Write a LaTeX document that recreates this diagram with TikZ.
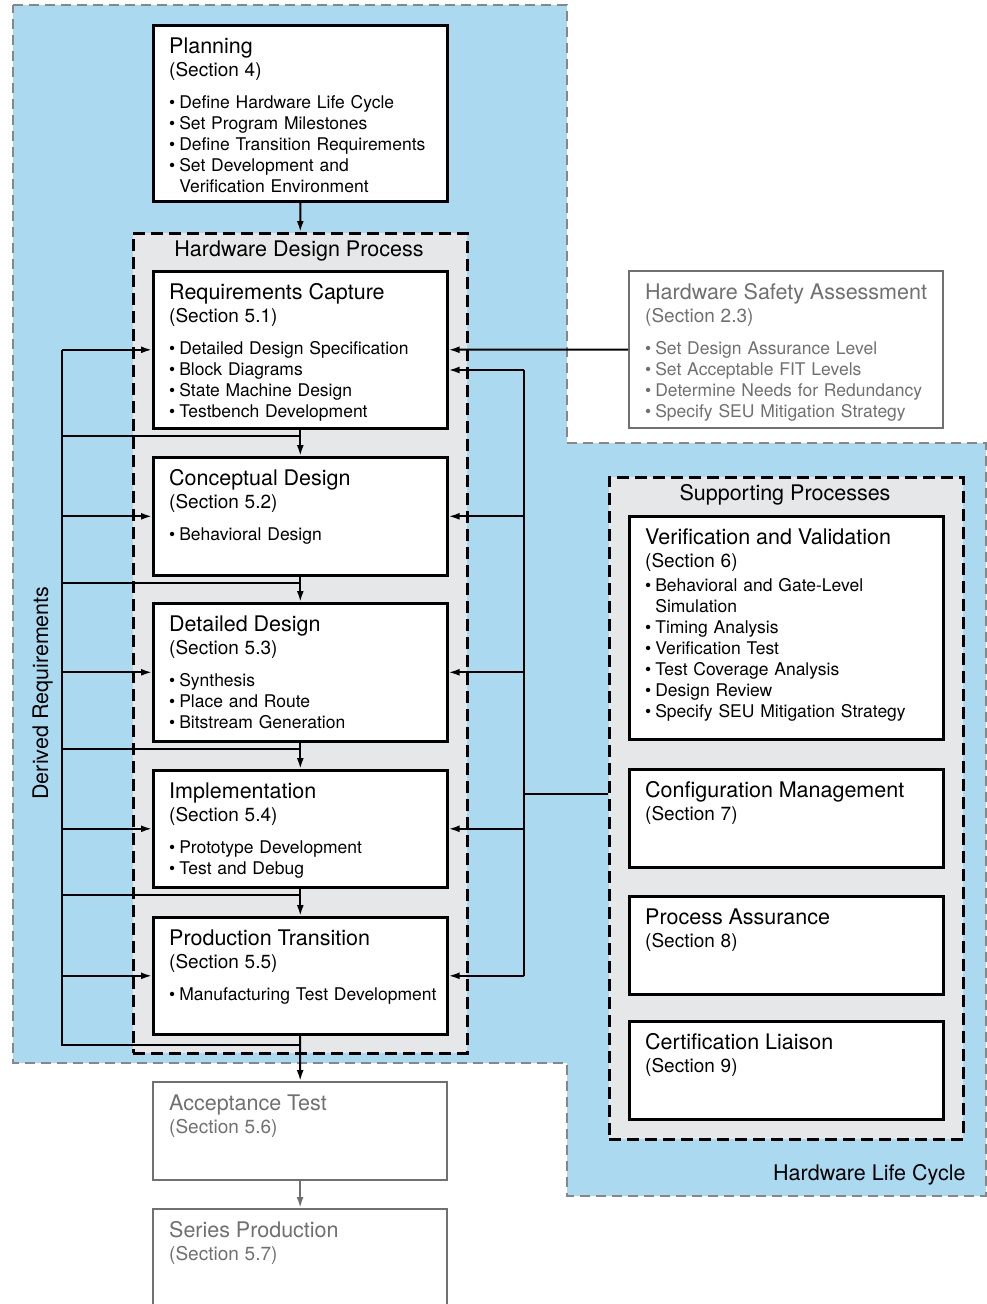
\documentclass[tikz,border=0pt]{standalone}
\usepackage{fontspec}
\setmainfont{TeX Gyre Heros}
\usetikzlibrary{arrows.meta, calc, positioning}

\definecolor{lifeblue}{RGB}{171,218,240}
\definecolor{procgray}{RGB}{230,231,232}
\definecolor{bordergray}{RGB}{135,135,135}
\definecolor{fadegray}{RGB}{112,112,114}

\newcommand{\boxtitle}[1]{{\fontsize{21.5}{24}\selectfont\rule{0pt}{18pt}#1\par}}
\newcommand{\boxsec}[1]{{\fontsize{19}{23.5}\selectfont #1\par}}
\newcommand{\boxitems}[2][10.5pt]{{\fontsize{17.5}{21}\selectfont\vspace{#1}#2\par}}
\newcommand{\bitem}{\textbullet\hspace{4pt}}
\newcommand{\bcont}{\phantom{\textbullet}\hspace{4pt}}

\begin{document}
\begin{tikzpicture}[x=1pt, y=-1pt,
	stage/.style={draw, line width=2.6pt, fill=white, anchor=north west, minimum width=294pt, inner sep=0pt},
	fadestage/.style={stage, draw=fadegray, line width=2.2pt},
	txt/.style={anchor=north west, inner sep=0pt, text width=300pt, align=left, font=\fontsize{17.5}{21}\selectfont},
	fadetxt/.style={txt, text=fadegray},
	group/.style={draw, dash pattern=on 12pt off 6pt, line width=2.5pt, fill=procgray, anchor=north west, inner sep=0pt},
	heading/.style={anchor=base, font=\fontsize{21.5}{24}\selectfont},
	flow/.style={-{Latex[length=11pt,width=7pt]}, line width=2pt},
	link/.style={line width=1.8pt}]

	\useasboundingbox (0,0) rectangle (987,1304);

	% hardware life cycle area
	\path[fill=lifeblue, draw=bordergray, line width=2.2pt, dash pattern=on 10pt off 6pt]
		(13,5) -- (567,5) -- (567,443) -- (986,443) -- (986,1196) -- (567,1196) -- (567,1063) -- (13,1063) -- cycle;
	\node[heading, anchor=base east] (hlc) at (969,1180) {Hardware Life Cycle};
	\node[heading, rotate=90] (derived) at (48,693) {Derived Requirements};

	% groups
	\node[group, minimum width=334pt, minimum height=820pt] (hdp) at (132,232) {};
	\node[heading] (hdp-title) at (299,256.5) {Hardware Design Process};
	\node[group, minimum width=354pt, minimum height=662pt] (supp) at (608,476) {};
	\node[heading] (supp-title) at (785,500.5) {Supporting Processes};

	% boxes
	\node[stage, minimum height=176pt] (plan) at (152,24) {};
	\node[stage, minimum height=157pt] (rc) at (152,270) {};
	\node[stage, minimum height=118pt] (cd) at (152,456) {};
	\node[stage, minimum height=138pt] (dd) at (152,602) {};
	\node[stage, minimum height=117pt] (impl) at (152,769) {};
	\node[stage, minimum height=117pt] (pt) at (152,916) {};
	\node[fadestage, minimum height=98pt] (acc) at (152,1081) {};
	\node[fadestage, minimum height=120pt] (ser) at (152,1208) {};
	\node[fadestage, minimum width=314pt, minimum height=157pt] (hsa) at (628,270) {};
	\node[stage, minimum width=314pt, minimum height=223pt] (vv) at (628,515) {};
	\node[stage, minimum width=314pt, minimum height=98pt] (cm) at (628,768) {};
	\node[stage, minimum width=314pt, minimum height=98pt] (pa) at (628,895) {};
	\node[stage, minimum width=314pt, minimum height=98pt] (cl) at (628,1020) {};

	% box texts
	\node[txt] (plan-txt) at ([shift={(17,11)}]plan.north west) {\boxtitle{Planning}\boxsec{(Section 4)}%
		\boxitems{\bitem Define Hardware Life Cycle\\ \bitem Set Program Milestones\\ \bitem Define Transition Requirements\\ \bitem Set Development and\\ \bcont Verification Environment}};
	\node[txt] (rc-txt) at ([shift={(17,11)}]rc.north west) {\boxtitle{Requirements Capture}\boxsec{(Section 5.1)}%
		\boxitems{\bitem Detailed Design Specification\\ \bitem Block Diagrams\\ \bitem State Machine Design\\ \bitem Testbench Development}};
	\node[txt] (cd-txt) at ([shift={(17,11)}]cd.north west) {\boxtitle{Conceptual Design}\boxsec{(Section 5.2)}%
		\boxitems{\bitem Behavioral Design}};
	\node[txt] (dd-txt) at ([shift={(17,11)}]dd.north west) {\boxtitle{Detailed Design}\boxsec{(Section 5.3)}%
		\boxitems{\bitem Synthesis\\ \bitem Place and Route\\ \bitem Bitstream Generation}};
	\node[txt] (impl-txt) at ([shift={(17,11)}]impl.north west) {\boxtitle{Implementation}\boxsec{(Section 5.4)}%
		\boxitems{\bitem Prototype Development\\ \bitem Test and Debug}};
	\node[txt] (pt-txt) at ([shift={(17,11)}]pt.north west) {\boxtitle{Production Transition}\boxsec{(Section 5.5)}%
		\boxitems{\bitem Manufacturing Test Development}};
	\node[fadetxt] (acc-txt) at ([shift={(17,11)}]acc.north west) {\boxtitle{Acceptance Test}\boxsec{(Section 5.6)}};
	\node[fadetxt] (ser-txt) at ([shift={(17,11)}]ser.north west) {\boxtitle{Series Production}\boxsec{(Section 5.7)}};
	\node[fadetxt] (hsa-txt) at ([shift={(17,11)}]hsa.north west) {\boxtitle{Hardware Safety Assessment}\boxsec{(Section 2.3)}%
		\boxitems{\bitem Set Design Assurance Level\\ \bitem Set Acceptable FIT Levels\\ \bitem Determine Needs for Redundancy\\ \bitem Specify SEU Mitigation Strategy}};
	\node[txt] (vv-txt) at ([shift={(17,11)}]vv.north west) {\boxtitle{Verification and Validation}\boxsec{(Section 6)}%
		\boxitems[3pt]{\bitem Behavioral and Gate-Level\\ \bcont Simulation\\ \bitem Timing Analysis\\ \bitem Verification Test\\ \bitem Test Coverage Analysis\\ \bitem Design Review\\ \bitem Specify SEU Mitigation Strategy}};
	\node[txt] (cm-txt) at ([shift={(17,11)}]cm.north west) {\boxtitle{Configuration Management}\boxsec{(Section 7)}};
	\node[txt] (pa-txt) at ([shift={(17,11)}]pa.north west) {\boxtitle{Process Assurance}\boxsec{(Section 8)}};
	\node[txt] (cl-txt) at ([shift={(17,11)}]cl.north west) {\boxtitle{Certification Liaison}\boxsec{(Section 9)}};

	% main flow
	\draw[flow] (plan) -- (hdp);
	\foreach \a/\b in {rc/cd, cd/dd, dd/impl, impl/pt}
		\draw[flow] (\a) -- (\b);
	\draw[flow] (pt) -- (acc);
	\draw[flow, fadegray] (acc) -- (ser);

	% derived requirements
	\coordinate (dr) at (62,0);
	\draw[link] (rc.west -| dr) |- ($(pt.south)+(0,9)$);
	\draw[flow] (rc.west -| dr) -- (rc.west);
	\foreach \s in {cd,dd,impl,pt}
		\draw[flow] (\s.west -| dr) -- (\s.west);
	\foreach \s in {rc,cd,dd,impl}
		\draw[link] ($(\s.south)+(0,6)$) coordinate (fb) -- (fb -| dr);

	% safety assessment and supporting processes
	\draw[flow] (hsa) -- (rc);
	\coordinate (sp) at (524,370);
	\draw[link] (sp) -- (sp |- pt.east);
	\draw[flow] (sp) -- (sp -| rc.east);
	\foreach \s in {cd,dd,impl,pt}
		\draw[flow] (\s.east -| sp) -- (\s.east);
	\draw[link] ($(supp.west)+(0,-14)$) coordinate (sj) -- (sj -| sp);

\end{tikzpicture}
\end{document}
